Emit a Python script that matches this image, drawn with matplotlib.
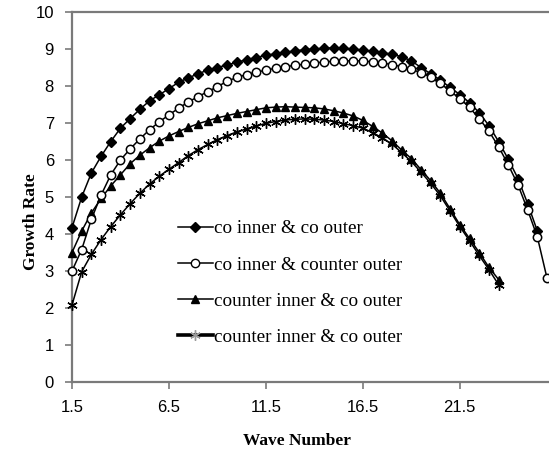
import matplotlib
matplotlib.use("Agg")
import matplotlib.pyplot as plt
from matplotlib.lines import Line2D

# Wave numbers (step 0.5 starting at 1.5)
wave_co_co = [1.5 + 0.5 * i for i in range(49)]          # 1.5 .. 25.5
wave_co_counter = [1.5 + 0.5 * i for i in range(50)]     # 1.5 .. 26.0
wave_counter = [1.5 + 0.5 * i for i in range(45)]        # 1.5 .. 23.5

growth_co_co = [
    4.17, 5.00, 5.65, 6.10, 6.50, 6.86, 7.12, 7.37, 7.60, 7.76,
    7.93, 8.10, 8.22, 8.33, 8.43, 8.50, 8.57, 8.64, 8.71, 8.77,
    8.83, 8.87, 8.91, 8.95, 8.98, 9.00, 9.02, 9.03, 9.02, 9.00,
    8.97, 8.94, 8.90, 8.86, 8.79, 8.68, 8.50, 8.33, 8.16, 7.96,
    7.77, 7.55, 7.28, 6.93, 6.50, 6.02, 5.50, 4.82, 4.08,
]

growth_co_counter = [
    3.00, 3.58, 4.40, 5.05, 5.60, 6.00, 6.30, 6.57, 6.82, 7.03,
    7.22, 7.40, 7.57, 7.71, 7.85, 7.98, 8.13, 8.23, 8.31, 8.37,
    8.43, 8.48, 8.52, 8.56, 8.59, 8.62, 8.65, 8.67, 8.68, 8.68,
    8.68, 8.65, 8.62, 8.58, 8.52, 8.45, 8.36, 8.24, 8.07, 7.86,
    7.66, 7.42, 7.12, 6.78, 6.36, 5.87, 5.33, 4.65, 3.92, 2.80,
]

growth_counter_co_a = [
    3.50, 4.08, 4.57, 4.96, 5.30, 5.60, 5.90, 6.13, 6.33, 6.51,
    6.65, 6.77, 6.88, 6.98, 7.06, 7.14, 7.20, 7.26, 7.31, 7.36,
    7.41, 7.43, 7.44, 7.43, 7.42, 7.41, 7.38, 7.33, 7.27, 7.19,
    7.07, 6.91, 6.73, 6.52, 6.27, 6.04, 5.74, 5.44, 5.10, 4.68,
    4.25, 3.88, 3.50, 3.10, 2.77,
]

growth_counter_co_b = [
    2.08, 2.98, 3.45, 3.85, 4.20, 4.52, 4.82, 5.10, 5.35, 5.56,
    5.75, 5.93, 6.12, 6.28, 6.42, 6.55, 6.66, 6.76, 6.84, 6.92,
    6.99, 7.04, 7.08, 7.10, 7.11, 7.10, 7.08, 7.04, 6.98, 6.93,
    6.86, 6.74, 6.60, 6.43, 6.20, 5.96, 5.67, 5.37, 5.03, 4.62,
    4.20, 3.82, 3.42, 3.04, 2.63,
]

labels = [
    "co inner & co outer",
    "co inner & counter outer",
    "counter inner & co outer",
    "counter inner & co outer",
]

x_ticks = [1.5, 6.5, 11.5, 16.5, 21.5]
y_ticks = list(range(0, 11))

W, H = 549, 457
fig = plt.figure(figsize=(W / 100, H / 100), dpi=100)
left, right, top, bottom = 72, 549, 12, 382
ax = fig.add_axes([left / W, 1 - bottom / H, (right - left) / W, (bottom - top) / H])

star = (6, 2, 0)
lw = 1.1
ax.plot(wave_co_co, growth_co_co, color="black", lw=lw, marker="D",
        ms=5, mfc="black", mec="black", clip_on=False, zorder=3)
ax.plot(wave_co_counter, growth_co_counter, color="black", lw=lw, marker="o",
        ms=6, mfc="white", mec="black", mew=1.1, clip_on=False, zorder=4)
ax.plot(wave_counter, growth_counter_co_a, color="black", lw=lw, marker="^",
        ms=6.2, mfc="black", mec="black", clip_on=False, zorder=3)
ax.plot(wave_counter, growth_counter_co_b, color="black", lw=lw, marker=star,
        ms=7.5, mfc="black", mec="black", mew=1.0, clip_on=False, zorder=3)

ax.set_xlim(1.5, 26.1)
ax.set_ylim(0, 10)
ax.set_xticks(x_ticks)
ax.set_xticklabels([f"{v:g}" for v in x_ticks])
ax.set_yticks(y_ticks)

spine_col = "#7a7a7a"
for side in ("left", "bottom", "top"):
    ax.spines[side].set_color(spine_col)
    ax.spines[side].set_linewidth(1.6)
ax.spines["right"].set_visible(False)

ax.tick_params(axis="both", direction="out", length=5, width=1.2,
               color=spine_col, labelsize=12, labelcolor="black")
ax.tick_params(axis="y", pad=8)
ax.tick_params(axis="x", pad=8)
for t in ax.get_xticklabels() + ax.get_yticklabels():
    t.set_fontfamily("Liberation Sans")

ax.set_xlabel("Wave Number", fontfamily="Liberation Serif", fontweight="bold", fontsize=12.5)
ax.set_ylabel("Growth Rate", fontfamily="Liberation Serif", fontweight="bold", fontsize=12.5)
ax.xaxis.set_label_coords((297 - left) / (right - left), -(433 - bottom) / (bottom - top))
ax.yaxis.set_label_coords(-(72 - 39) / (right - left), (bottom - 222) / (bottom - top))

handles = [
    Line2D([], [], color="black", lw=lw, marker="D", ms=5, mfc="black", mec="black"),
    Line2D([], [], color="black", lw=lw, marker="o", ms=6, mfc="white", mec="black"),
    Line2D([], [], color="black", lw=lw, marker="^", ms=6.2, mfc="black", mec="black"),
    Line2D([], [], color="black", lw=2.6, marker=star, ms=7.5, mec="#9a9a9a", mew=1.0),
]
leg = ax.legend(handles, labels, loc="upper left",
                bbox_to_anchor=((178 - left) / (right - left), (bottom - 220) / (bottom - top)),
                frameon=False, handlelength=1.8, handletextpad=0.08, labelspacing=0.98,
                borderaxespad=0, borderpad=0,
                prop={"family": "Liberation Serif", "size": 13.8})

ax.set_facecolor("white")
fig.patch.set_facecolor("white")
fig.savefig("out.png", dpi=100)
